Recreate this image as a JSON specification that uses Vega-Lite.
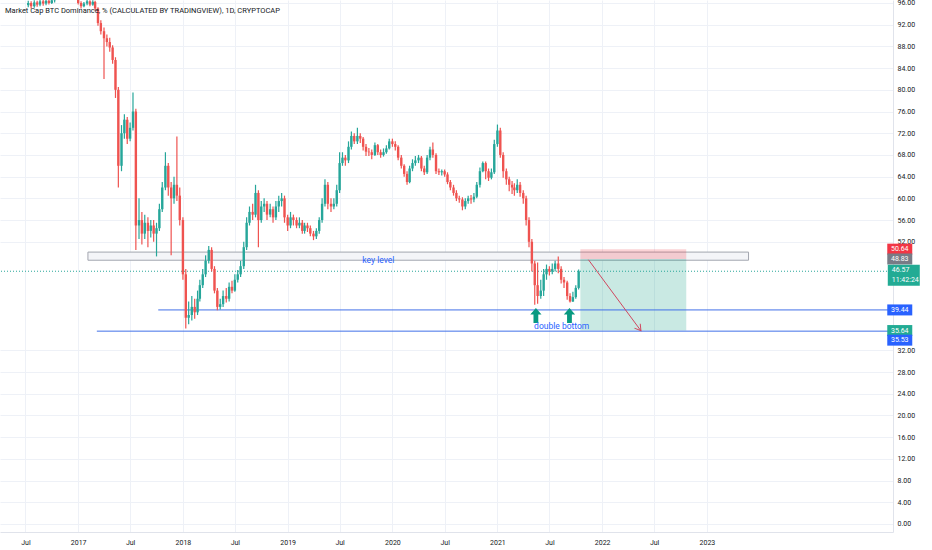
{
  "$schema": "https://vega.github.io/schema/vega-lite/v6.json",
  "width": 893,
  "height": 532,
  "autosize": {"type": "none"},
  "padding": {"left": 0, "top": 0, "right": 39, "bottom": 18},
  "background": "white",
  "title": {
    "text": "Market Cap BTC Dominance, % (CALCULATED BY TRADINGVIEW), 1D, CRYPTOCAP",
    "anchor": "start", "frame": "group", "offset": -16, "dx": 5,
    "fontSize": 7.5, "fontWeight": "normal", "color": "#131722", "font": "Roboto"
  },
  "datasets": {
    "candles": [
      {"d":"2016-07-11","o":95.6,"h":96.4,"l":95.2,"c":96.0},
      {"d":"2016-07-21","o":96.0,"h":96.3,"l":95.0,"c":95.4},
      {"d":"2016-08-01","o":95.4,"h":96.5,"l":95.1,"c":96.1},
      {"d":"2016-08-11","o":96.1,"h":96.4,"l":95.3,"c":95.7},
      {"d":"2016-08-21","o":95.7,"h":96.6,"l":95.4,"c":96.3},
      {"d":"2016-09-01","o":96.3,"h":96.6,"l":95.5,"c":95.9},
      {"d":"2016-09-11","o":95.9,"h":96.8,"l":95.6,"c":96.4},
      {"d":"2016-09-21","o":96.4,"h":96.7,"l":95.7,"c":96.0},
      {"d":"2016-10-01","o":96.0,"h":96.9,"l":95.8,"c":96.5},
      {"d":"2016-10-11","o":96.5,"h":97.3,"l":96.1,"c":96.9},
      {"d":"2016-10-21","o":96.9,"h":97.8,"l":96.8,"c":97.4},
      {"d":"2016-11-01","o":97.4,"h":98.2,"l":97.2,"c":97.8},
      {"d":"2016-11-11","o":97.8,"h":98.4,"l":97.5,"c":98.0},
      {"d":"2016-11-21","o":98.0,"h":98.3,"l":97.5,"c":97.9},
      {"d":"2016-12-01","o":97.9,"h":98.5,"l":97.6,"c":98.2},
      {"d":"2016-12-11","o":98.2,"h":98.4,"l":97.3,"c":97.6},
      {"d":"2016-12-21","o":97.6,"h":97.8,"l":96.6,"c":97.0},
      {"d":"2017-01-01","o":97.0,"h":97.2,"l":95.7,"c":96.0},
      {"d":"2017-01-11","o":96.0,"h":96.3,"l":95.0,"c":95.4},
      {"d":"2017-01-21","o":95.4,"h":96.2,"l":95.2,"c":95.9},
      {"d":"2017-02-01","o":95.9,"h":96.6,"l":95.6,"c":96.3},
      {"d":"2017-02-11","o":96.3,"h":96.5,"l":95.4,"c":95.7},
      {"d":"2017-02-21","o":95.7,"h":96.5,"l":95.5,"c":96.2},
      {"d":"2017-03-01","o":96.2,"h":96.4,"l":94.6,"c":95.0},
      {"d":"2017-03-11","o":95.0,"h":95.2,"l":91.8,"c":92.3},
      {"d":"2017-03-21","o":92.3,"h":92.8,"l":90.2,"c":90.8},
      {"d":"2017-04-01","o":90.8,"h":91.5,"l":82.0,"c":89.5},
      {"d":"2017-04-11","o":89.5,"h":90.2,"l":88.0,"c":88.8},
      {"d":"2017-04-21","o":88.8,"h":89.6,"l":87.0,"c":87.8},
      {"d":"2017-05-01","o":87.8,"h":88.2,"l":84.8,"c":85.5},
      {"d":"2017-05-11","o":85.5,"h":86.0,"l":78.5,"c":80.0},
      {"d":"2017-05-21","o":80.0,"h":80.5,"l":62.0,"c":66.0},
      {"d":"2017-06-01","o":66.0,"h":73.5,"l":65.0,"c":72.0},
      {"d":"2017-06-11","o":72.0,"h":75.5,"l":71.0,"c":74.5},
      {"d":"2017-06-21","o":74.5,"h":75.0,"l":70.0,"c":71.0},
      {"d":"2017-07-01","o":71.0,"h":74.0,"l":70.5,"c":73.0},
      {"d":"2017-07-11","o":73.0,"h":79.5,"l":72.5,"c":76.0},
      {"d":"2017-07-21","o":76.0,"h":76.5,"l":50.5,"c":55.0},
      {"d":"2017-08-01","o":55.0,"h":60.0,"l":52.5,"c":56.0},
      {"d":"2017-08-11","o":56.0,"h":57.5,"l":51.5,"c":53.5},
      {"d":"2017-08-21","o":53.5,"h":57.0,"l":52.5,"c":55.5},
      {"d":"2017-09-01","o":55.5,"h":56.5,"l":51.0,"c":54.0},
      {"d":"2017-09-11","o":54.0,"h":56.0,"l":52.8,"c":55.0},
      {"d":"2017-09-21","o":55.0,"h":56.0,"l":52.0,"c":53.5},
      {"d":"2017-10-01","o":53.5,"h":55.5,"l":49.3,"c":54.5},
      {"d":"2017-10-11","o":54.5,"h":59.0,"l":54.0,"c":58.0},
      {"d":"2017-10-21","o":58.0,"h":63.0,"l":57.5,"c":62.0},
      {"d":"2017-11-01","o":62.0,"h":68.5,"l":61.5,"c":66.0},
      {"d":"2017-11-11","o":66.0,"h":66.5,"l":60.5,"c":62.0},
      {"d":"2017-11-21","o":62.0,"h":63.0,"l":49.5,"c":60.0},
      {"d":"2017-12-01","o":60.0,"h":64.0,"l":59.0,"c":62.5},
      {"d":"2017-12-11","o":62.5,"h":71.4,"l":59.5,"c":60.5},
      {"d":"2017-12-21","o":60.5,"h":62.0,"l":55.0,"c":56.0},
      {"d":"2018-01-01","o":56.0,"h":56.5,"l":45.0,"c":46.0},
      {"d":"2018-01-11","o":46.0,"h":47.0,"l":36.0,"c":38.0},
      {"d":"2018-01-21","o":38.0,"h":41.0,"l":36.8,"c":38.5},
      {"d":"2018-02-01","o":38.5,"h":42.0,"l":37.5,"c":40.0},
      {"d":"2018-02-11","o":40.0,"h":41.5,"l":37.8,"c":39.0},
      {"d":"2018-02-21","o":39.0,"h":43.0,"l":38.5,"c":41.5},
      {"d":"2018-03-01","o":41.5,"h":45.0,"l":41.0,"c":44.0},
      {"d":"2018-03-11","o":44.0,"h":47.0,"l":43.5,"c":46.0},
      {"d":"2018-03-21","o":46.0,"h":49.5,"l":45.5,"c":48.5},
      {"d":"2018-04-01","o":48.5,"h":51.2,"l":48.0,"c":50.5},
      {"d":"2018-04-11","o":50.5,"h":51.0,"l":46.5,"c":47.0},
      {"d":"2018-04-21","o":47.0,"h":47.5,"l":42.5,"c":43.0},
      {"d":"2018-05-01","o":43.0,"h":43.5,"l":39.4,"c":40.0},
      {"d":"2018-05-11","o":40.0,"h":41.5,"l":39.5,"c":40.5},
      {"d":"2018-05-21","o":40.5,"h":43.0,"l":40.0,"c":42.0},
      {"d":"2018-06-01","o":42.0,"h":43.5,"l":40.8,"c":41.5},
      {"d":"2018-06-11","o":41.5,"h":44.5,"l":41.0,"c":43.7},
      {"d":"2018-06-21","o":43.7,"h":44.8,"l":42.5,"c":43.0},
      {"d":"2018-07-01","o":43.0,"h":46.0,"l":42.8,"c":45.0},
      {"d":"2018-07-11","o":45.0,"h":46.8,"l":44.5,"c":46.0},
      {"d":"2018-07-21","o":46.0,"h":48.5,"l":45.5,"c":47.5},
      {"d":"2018-08-01","o":47.5,"h":52.0,"l":47.0,"c":51.0},
      {"d":"2018-08-11","o":51.0,"h":56.5,"l":50.5,"c":55.5},
      {"d":"2018-08-21","o":55.5,"h":58.5,"l":55.0,"c":57.5},
      {"d":"2018-09-01","o":57.5,"h":59.0,"l":56.0,"c":57.0},
      {"d":"2018-09-11","o":57.0,"h":62.5,"l":56.5,"c":61.0},
      {"d":"2018-09-21","o":61.0,"h":61.5,"l":51.0,"c":56.0},
      {"d":"2018-10-01","o":56.0,"h":59.5,"l":55.5,"c":58.5},
      {"d":"2018-10-11","o":58.5,"h":60.0,"l":57.5,"c":59.0},
      {"d":"2018-10-21","o":59.0,"h":59.5,"l":56.0,"c":57.0},
      {"d":"2018-11-01","o":57.0,"h":59.0,"l":56.5,"c":58.0},
      {"d":"2018-11-11","o":58.0,"h":58.5,"l":55.5,"c":56.5},
      {"d":"2018-11-21","o":56.5,"h":59.5,"l":56.0,"c":58.5},
      {"d":"2018-12-01","o":58.5,"h":60.5,"l":57.5,"c":59.5},
      {"d":"2018-12-11","o":59.5,"h":61.0,"l":58.5,"c":60.0},
      {"d":"2018-12-21","o":60.0,"h":60.5,"l":55.5,"c":56.5},
      {"d":"2019-01-01","o":56.5,"h":57.0,"l":54.0,"c":55.0},
      {"d":"2019-01-11","o":55.0,"h":57.5,"l":54.5,"c":56.5},
      {"d":"2019-01-21","o":56.5,"h":57.0,"l":55.0,"c":56.0},
      {"d":"2019-02-01","o":56.0,"h":56.5,"l":54.5,"c":55.0},
      {"d":"2019-02-11","o":55.0,"h":56.5,"l":54.5,"c":55.5},
      {"d":"2019-02-21","o":55.5,"h":56.0,"l":53.5,"c":54.0},
      {"d":"2019-03-01","o":54.0,"h":55.5,"l":53.5,"c":55.0},
      {"d":"2019-03-11","o":55.0,"h":55.5,"l":53.8,"c":54.5},
      {"d":"2019-03-21","o":54.5,"h":55.0,"l":53.0,"c":53.5},
      {"d":"2019-04-01","o":53.5,"h":54.0,"l":52.3,"c":53.0},
      {"d":"2019-04-11","o":53.0,"h":54.5,"l":52.5,"c":54.0},
      {"d":"2019-04-21","o":54.0,"h":56.5,"l":53.5,"c":56.0},
      {"d":"2019-05-01","o":56.0,"h":60.0,"l":55.5,"c":59.0},
      {"d":"2019-05-11","o":59.0,"h":63.5,"l":58.5,"c":62.5},
      {"d":"2019-05-21","o":62.5,"h":63.0,"l":58.0,"c":59.0},
      {"d":"2019-06-01","o":59.0,"h":60.0,"l":57.5,"c":58.5},
      {"d":"2019-06-11","o":58.5,"h":60.0,"l":58.0,"c":59.0},
      {"d":"2019-06-21","o":59.0,"h":62.5,"l":58.5,"c":61.5},
      {"d":"2019-07-01","o":61.5,"h":68.5,"l":61.0,"c":66.5},
      {"d":"2019-07-11","o":66.5,"h":68.5,"l":66.0,"c":67.5},
      {"d":"2019-07-21","o":67.5,"h":68.0,"l":66.0,"c":67.0},
      {"d":"2019-08-01","o":67.0,"h":70.5,"l":66.5,"c":69.5},
      {"d":"2019-08-11","o":69.5,"h":72.3,"l":69.0,"c":71.5},
      {"d":"2019-08-21","o":71.5,"h":72.0,"l":70.0,"c":70.5},
      {"d":"2019-09-01","o":70.5,"h":73.0,"l":70.0,"c":71.5},
      {"d":"2019-09-11","o":71.5,"h":72.0,"l":70.2,"c":71.0},
      {"d":"2019-09-21","o":71.0,"h":71.3,"l":68.8,"c":69.5},
      {"d":"2019-10-01","o":69.5,"h":70.0,"l":67.8,"c":68.6},
      {"d":"2019-10-11","o":68.6,"h":69.3,"l":67.8,"c":68.5},
      {"d":"2019-10-21","o":68.5,"h":69.0,"l":67.2,"c":68.0},
      {"d":"2019-11-01","o":68.0,"h":70.3,"l":67.8,"c":69.8},
      {"d":"2019-11-11","o":69.8,"h":70.0,"l":68.0,"c":68.5},
      {"d":"2019-11-21","o":68.5,"h":69.0,"l":67.5,"c":68.0},
      {"d":"2019-12-01","o":68.0,"h":69.2,"l":67.7,"c":68.5},
      {"d":"2019-12-11","o":68.5,"h":69.8,"l":68.2,"c":69.2},
      {"d":"2019-12-21","o":69.2,"h":71.0,"l":69.0,"c":70.5},
      {"d":"2020-01-01","o":70.5,"h":71.0,"l":69.5,"c":70.0},
      {"d":"2020-01-11","o":70.0,"h":70.5,"l":68.8,"c":69.5},
      {"d":"2020-01-21","o":69.5,"h":69.8,"l":67.0,"c":67.5},
      {"d":"2020-02-01","o":67.5,"h":68.0,"l":65.5,"c":66.0},
      {"d":"2020-02-11","o":66.0,"h":66.3,"l":64.0,"c":64.5},
      {"d":"2020-02-21","o":64.5,"h":65.0,"l":62.5,"c":63.0},
      {"d":"2020-03-01","o":63.0,"h":66.0,"l":62.8,"c":65.5},
      {"d":"2020-03-11","o":65.5,"h":67.2,"l":65.0,"c":66.5},
      {"d":"2020-03-21","o":66.5,"h":67.8,"l":66.0,"c":67.0},
      {"d":"2020-04-01","o":67.0,"h":68.0,"l":66.5,"c":67.5},
      {"d":"2020-04-11","o":67.5,"h":67.8,"l":65.0,"c":65.5},
      {"d":"2020-04-21","o":65.5,"h":66.0,"l":64.3,"c":64.8},
      {"d":"2020-05-01","o":64.8,"h":68.0,"l":64.5,"c":67.5},
      {"d":"2020-05-11","o":67.5,"h":69.5,"l":67.0,"c":69.0},
      {"d":"2020-05-21","o":69.0,"h":70.3,"l":67.5,"c":68.0},
      {"d":"2020-06-01","o":68.0,"h":68.3,"l":64.5,"c":65.0},
      {"d":"2020-06-11","o":65.0,"h":65.5,"l":64.3,"c":64.8},
      {"d":"2020-06-21","o":64.8,"h":65.3,"l":64.2,"c":65.0},
      {"d":"2020-07-01","o":65.0,"h":65.3,"l":64.0,"c":64.4},
      {"d":"2020-07-11","o":64.4,"h":64.8,"l":62.6,"c":63.0},
      {"d":"2020-07-21","o":63.0,"h":63.4,"l":61.5,"c":62.0},
      {"d":"2020-08-01","o":62.0,"h":62.5,"l":60.5,"c":61.0},
      {"d":"2020-08-11","o":61.0,"h":61.5,"l":59.5,"c":60.0},
      {"d":"2020-08-21","o":60.0,"h":60.5,"l":59.2,"c":59.8},
      {"d":"2020-09-01","o":59.8,"h":60.2,"l":57.8,"c":58.5},
      {"d":"2020-09-11","o":58.5,"h":60.0,"l":58.0,"c":59.5},
      {"d":"2020-09-21","o":59.5,"h":60.5,"l":59.0,"c":60.0},
      {"d":"2020-10-01","o":60.0,"h":60.6,"l":59.0,"c":59.8},
      {"d":"2020-10-11","o":59.8,"h":61.0,"l":59.3,"c":60.3},
      {"d":"2020-10-21","o":60.3,"h":63.0,"l":60.0,"c":62.5},
      {"d":"2020-11-01","o":62.5,"h":65.7,"l":62.0,"c":65.0},
      {"d":"2020-11-11","o":65.0,"h":66.8,"l":64.8,"c":66.5},
      {"d":"2020-11-21","o":66.5,"h":66.8,"l":63.5,"c":65.0},
      {"d":"2020-12-01","o":65.0,"h":65.5,"l":63.2,"c":63.8},
      {"d":"2020-12-11","o":63.8,"h":65.5,"l":63.5,"c":64.8},
      {"d":"2020-12-21","o":64.8,"h":70.8,"l":64.5,"c":70.0},
      {"d":"2021-01-01","o":70.0,"h":73.6,"l":69.5,"c":72.5},
      {"d":"2021-01-11","o":72.5,"h":73.0,"l":67.5,"c":68.0},
      {"d":"2021-01-21","o":68.0,"h":68.5,"l":63.8,"c":65.0},
      {"d":"2021-02-01","o":65.0,"h":65.5,"l":62.5,"c":63.5},
      {"d":"2021-02-11","o":63.5,"h":64.0,"l":61.3,"c":62.5},
      {"d":"2021-02-21","o":62.5,"h":63.2,"l":60.8,"c":62.0},
      {"d":"2021-03-01","o":62.0,"h":62.8,"l":60.5,"c":61.5},
      {"d":"2021-03-11","o":61.5,"h":63.5,"l":61.0,"c":62.5},
      {"d":"2021-03-21","o":62.5,"h":63.0,"l":60.3,"c":61.0},
      {"d":"2021-04-01","o":61.0,"h":61.5,"l":59.0,"c":60.0},
      {"d":"2021-04-11","o":60.0,"h":60.5,"l":55.0,"c":56.0},
      {"d":"2021-04-21","o":56.0,"h":56.5,"l":51.0,"c":52.0},
      {"d":"2021-05-01","o":52.0,"h":52.5,"l":46.5,"c":48.0},
      {"d":"2021-05-11","o":48.0,"h":48.5,"l":40.4,"c":44.0},
      {"d":"2021-05-21","o":44.0,"h":48.2,"l":40.6,"c":42.0},
      {"d":"2021-06-01","o":42.0,"h":45.0,"l":41.5,"c":43.0},
      {"d":"2021-06-11","o":43.0,"h":47.0,"l":42.0,"c":46.0},
      {"d":"2021-06-21","o":46.0,"h":47.8,"l":45.0,"c":47.0},
      {"d":"2021-07-01","o":47.0,"h":47.5,"l":45.8,"c":46.5},
      {"d":"2021-07-11","o":46.5,"h":48.0,"l":46.0,"c":47.0},
      {"d":"2021-07-21","o":47.0,"h":48.5,"l":46.5,"c":48.0},
      {"d":"2021-08-01","o":48.0,"h":49.3,"l":46.2,"c":47.0},
      {"d":"2021-08-11","o":47.0,"h":47.5,"l":44.3,"c":45.0},
      {"d":"2021-08-21","o":45.0,"h":45.5,"l":43.5,"c":44.5},
      {"d":"2021-09-01","o":44.5,"h":44.8,"l":41.3,"c":42.0},
      {"d":"2021-09-11","o":42.0,"h":42.5,"l":40.8,"c":41.0},
      {"d":"2021-09-21","o":41.0,"h":42.8,"l":40.9,"c":41.8},
      {"d":"2021-10-01","o":41.8,"h":44.0,"l":41.5,"c":43.5},
      {"d":"2021-10-11","o":43.5,"h":46.9,"l":43.2,"c":46.57}
    ]
  },
  "resolve": {"scale": {"color": "independent"}},
  "layer": [
    {
      "data": {"values": [{"from": "2017-02-04", "to": "2023-05-26", "lo": 48.6, "hi": 50.1}]},
      "mark": {"type": "rect", "fill": "#f4f5f8", "stroke": "#a3a6af", "strokeWidth": 1},
      "encoding": {
        "x": {"field": "from", "type": "temporal", "title": null,
          "scale": {"domain": ["2016-04-21", "2024-09-23"], "nice": false},
          "axis": {
            "orient": "bottom",
            "values": [
              {"year": 2016, "month": 7, "date": 1}, {"year": 2017, "month": 1, "date": 1},
              {"year": 2017, "month": 7, "date": 1}, {"year": 2018, "month": 1, "date": 1},
              {"year": 2018, "month": 7, "date": 1}, {"year": 2019, "month": 1, "date": 1},
              {"year": 2019, "month": 7, "date": 1}, {"year": 2020, "month": 1, "date": 1},
              {"year": 2020, "month": 7, "date": 1}, {"year": 2021, "month": 1, "date": 1},
              {"year": 2021, "month": 7, "date": 1}, {"year": 2022, "month": 1, "date": 1},
              {"year": 2022, "month": 7, "date": 1}, {"year": 2023, "month": 1, "date": 1}
            ],
            "labelExpr": "month(datum.value) == 0 ? timeFormat(datum.value, '%Y') : 'Jul'",
            "grid": true, "gridColor": "#eef1f7", "ticks": false, "labelOverlap": false,
            "domainColor": "#e0e3eb", "labelPadding": 6, "labelFlush": false
          }
        },
        "x2": {"field": "to"},
        "y": {"field": "lo", "type": "quantitative", "title": null,
          "scale": {"domain": [-1.48, 96.55], "nice": false, "zero": false},
          "axis": {
            "orient": "right",
            "values": [0, 4, 8, 12, 16, 20, 24, 28, 32, 52, 56, 60, 64, 68, 72, 76, 80, 84, 88, 92, 96],
            "format": ".2f", "grid": true, "gridColor": "#eef1f7", "ticks": false,
            "labelOverlap": false, "labelBound": false, "labelSeparation": 0,
            "domainColor": "#e0e3eb", "labelPadding": 4
          }
        },
        "y2": {"field": "hi"}
      }
    },
    {
      "data": {"values": [
        {"from": "2021-10-17", "to": "2022-10-21", "lo": 48.83, "hi": 50.64, "zone": "stop"},
        {"from": "2021-10-17", "to": "2022-10-21", "lo": 35.64, "hi": 48.83, "zone": "target"}
      ]},
      "mark": {"type": "rect", "opacity": 0.22},
      "encoding": {
        "x": {"field": "from", "type": "temporal", "title": null},
        "x2": {"field": "to"},
        "y": {"field": "lo", "type": "quantitative", "title": null},
        "y2": {"field": "hi"},
        "color": {"field": "zone", "type": "nominal", "legend": null,
          "scale": {"domain": ["stop", "target"], "range": ["#f23645", "#089981"]}}
      }
    },
    {
      "data": {"values": [{"p": 46.57}]},
      "mark": {"type": "rule", "color": "#26a69a", "strokeDash": [1, 2], "strokeWidth": 1},
      "encoding": {"y": {"field": "p", "type": "quantitative", "title": null}}
    },
    {
      "data": {"values": [{"from": "2017-10-07", "p": 39.44}, {"from": "2017-03-07", "p": 35.53}]},
      "mark": {"type": "rule", "color": "#4170e8", "strokeWidth": 1},
      "encoding": {
        "x": {"field": "from", "type": "temporal", "title": null},
        "x2": {"datum": {"year": 2024, "month": 9, "date": 23}},
        "y": {"field": "p", "type": "quantitative", "title": null}
      }
    },
    {
      "data": {"name": "candles"},
      "mark": {"type": "rule", "strokeWidth": 1.2, "clip": true},
      "encoding": {
        "x": {"field": "d", "type": "temporal", "title": null},
        "y": {"field": "l", "type": "quantitative", "title": null},
        "y2": {"field": "h"},
        "color": {"condition": {"test": "datum.c >= datum.o", "value": "#26a69a"}, "value": "#ef5350"}
      }
    },
    {
      "data": {"name": "candles"},
      "mark": {"type": "bar", "width": 2.4, "clip": true},
      "encoding": {
        "x": {"field": "d", "type": "temporal", "title": null},
        "y": {"field": "o", "type": "quantitative", "title": null},
        "y2": {"field": "c"},
        "color": {"condition": {"test": "datum.c >= datum.o", "value": "#26a69a"}, "value": "#ef5350"}
      }
    },
    {
      "data": {"values": [{"d": "2021-11-14", "p": 48.7}, {"d": "2022-05-16", "p": 35.6}]},
      "mark": {"type": "line", "color": "#d0475f", "strokeWidth": 1},
      "encoding": {
        "x": {"field": "d", "type": "temporal", "title": null},
        "y": {"field": "p", "type": "quantitative", "title": null}
      }
    },
    {
      "data": {"values": [{"d": "2022-05-16", "p": 35.6}]},
      "mark": {"type": "point", "shape": "M-0.6,-1L0,0L0.6,-1", "angle": -36.7, "size": 144,
        "filled": false, "stroke": "#d0475f", "strokeWidth": 1, "opacity": 1},
      "encoding": {
        "x": {"field": "d", "type": "temporal", "title": null},
        "y": {"field": "p", "type": "quantitative", "title": null}
      }
    },
    {
      "data": {"values": [{"d": "2021-05-15", "p": 38.4}, {"d": "2021-09-09", "p": 38.4}]},
      "mark": {"type": "point", "shape": "M0,-1L0.75,-0.15L0.32,-0.15L0.32,1L-0.32,1L-0.32,-0.15L-0.75,-0.15Z",
        "size": 225, "filled": true, "color": "#089981", "opacity": 1},
      "encoding": {
        "x": {"field": "d", "type": "temporal", "title": null},
        "y": {"field": "p", "type": "quantitative", "title": null}
      }
    },
    {
      "data": {"values": [
        {"d": "2019-11-13", "p": 48.7, "t": "key level"},
        {"d": "2021-08-13", "p": 36.4, "t": "double bottom"}
      ]},
      "mark": {"type": "text", "color": "#2962ff", "fontSize": 8.5, "font": "Roboto", "align": "center", "baseline": "middle"},
      "encoding": {
        "x": {"field": "d", "type": "temporal", "title": null},
        "y": {"field": "p", "type": "quantitative", "title": null},
        "text": {"field": "t"}
      }
    },
    {
      "data": {"values": [
        {"p": 50.64, "kind": "stop"}, {"p": 48.83, "kind": "entry"},
        {"p": 39.44, "kind": "line"}, {"p": 35.64, "kind": "target"}
      ]},
      "mark": {"type": "point", "shape": "M-1,-0.44H1V0.44H-1Z", "size": 625, "filled": true, "opacity": 1},
      "encoding": {
        "x": {"datum": {"year": 2024, "month": 11, "date": 3}, "type": "temporal", "title": null},
        "y": {"field": "p", "type": "quantitative", "title": null},
        "color": {"field": "kind", "type": "nominal", "legend": null,
          "scale": {"domain": ["stop", "entry", "line", "target"], "range": ["#f23645", "#787b86", "#2962ff", "#22ab94"]}}
      }
    },
    {
      "data": {"values": [{"p": 35.53}]},
      "mark": {"type": "point", "shape": "M-1,-0.44H1V0.44H-1Z", "size": 625, "filled": true, "opacity": 1,
        "color": "#2962ff", "yOffset": 9},
      "encoding": {
        "x": {"datum": {"year": 2024, "month": 11, "date": 3}, "type": "temporal", "title": null},
        "y": {"field": "p", "type": "quantitative", "title": null}
      }
    },
    {
      "data": {"values": [{"p": 46.57}]},
      "mark": {"type": "point", "shape": "M-1,-0.66H1V0.66H-1Z", "size": 1024, "filled": true, "opacity": 1,
        "color": "#22ab94", "yOffset": 4},
      "encoding": {
        "x": {"datum": {"year": 2024, "month": 11, "date": 17}, "type": "temporal", "title": null},
        "y": {"field": "p", "type": "quantitative", "title": null}
      }
    },
    {
      "data": {"values": [
        {"p": 50.64, "t": "50.64"}, {"p": 48.83, "t": "48.83"},
        {"p": 39.44, "t": "39.44"}, {"p": 35.64, "t": "35.64"}
      ]},
      "mark": {"type": "text", "color": "white", "fontSize": 7, "font": "Roboto", "align": "center", "baseline": "middle"},
      "encoding": {
        "x": {"datum": {"year": 2024, "month": 11, "date": 3}, "type": "temporal", "title": null},
        "y": {"field": "p", "type": "quantitative", "title": null},
        "text": {"field": "t"}
      }
    },
    {
      "data": {"values": [{"p": 35.53, "t": "35.53"}]},
      "mark": {"type": "text", "color": "white", "fontSize": 7, "font": "Roboto", "align": "center", "baseline": "middle", "yOffset": 9},
      "encoding": {
        "x": {"datum": {"year": 2024, "month": 11, "date": 3}, "type": "temporal", "title": null},
        "y": {"field": "p", "type": "quantitative", "title": null},
        "text": {"field": "t"}
      }
    },
    {
      "data": {"values": [{"p": 46.57, "t": "46.57", "cd": "11:42:24"}]},
      "layer": [
        {
          "mark": {"type": "text", "color": "white", "fontSize": 7, "font": "Roboto", "align": "left", "baseline": "middle", "dx": -12, "yOffset": -1},
          "encoding": {
            "x": {"datum": {"year": 2024, "month": 11, "date": 17}, "type": "temporal", "title": null},
            "y": {"field": "p", "type": "quantitative", "title": null},
            "text": {"field": "t"}
          }
        },
        {
          "mark": {"type": "text", "color": "white", "fontSize": 7, "font": "Roboto", "align": "left", "baseline": "middle", "dx": -12, "yOffset": 9},
          "encoding": {
            "x": {"datum": {"year": 2024, "month": 11, "date": 17}, "type": "temporal", "title": null},
            "y": {"field": "p", "type": "quantitative", "title": null},
            "text": {"field": "cd"}
          }
        }
      ]
    }
  ],
  "config": {
    "view": {"stroke": null},
    "font": "Roboto",
    "axis": {"labelFont": "Roboto", "labelFontSize": 7, "labelColor": "#131722", "labelOverlap": false},
    "axisY": {"labelOverlap": false, "tickCount": 30}
  }
}
